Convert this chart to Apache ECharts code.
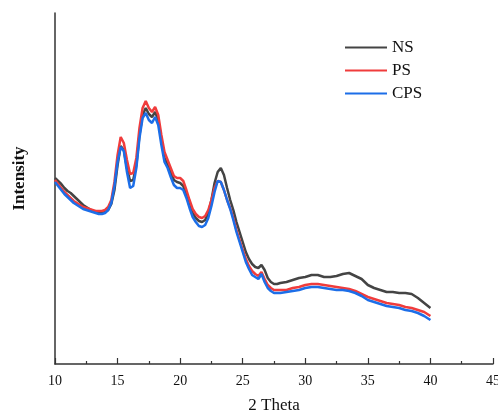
<!DOCTYPE html>
<html>
<head>
<meta charset="utf-8">
<script src="https://cdn.jsdelivr.net/npm/echarts@6/dist/echarts.min.js"></script>
<style>
html,body{margin:0;padding:0;background:#fff;}
#chart{width:498px;height:415px;}
</style>
</head>
<body>
<div id="chart"></div>
<script>
const seriesNames = ['NS', 'PS', 'CPS'];
const xTicks = [10, 15, 20, 25, 30, 35, 40, 45];
const theta = [10,10.25,10.5,10.75,11,11.25,11.5,11.75,12,12.25,12.5,12.75,13,13.25,13.5,13.75,14,14.25,14.5,14.75,
  15,15.25,15.5,15.75,16,16.25,16.5,16.75,17,17.25,17.5,17.75,18,18.25,18.5,18.75,19,19.25,19.5,19.75,
  20,20.25,20.5,20.75,21,21.25,21.5,21.75,22,22.25,22.5,22.75,23,23.25,23.5,23.75,24,24.25,24.5,24.75,
  25,25.25,25.5,25.75,26,26.25,26.5,26.75,27,27.25,27.5,27.75,28,
  28.5,29,29.5,30,30.5,31,31.5,32,32.5,33,33.5,34,34.5,35,35.5,36,36.5,37,37.5,38,38.5,39,39.5,40];
const NS = [186,183,180,176,173,171,168,165,162,159,157,155,153,152,151,151,152,154,160,174,
  199,218,214,196,183,184,199,229,249,256,250,247,252,244,224,206,199,192,184,182,
  181,178,169,159,151,146,143,142,144,151,164,181,192,196,189,176,164,154,142,132,
  122,112,105,100,97,96,99,94,86,82,80,80,81,
  82,84,86,87,89,89,87,87,88,90,91,88,85,79,76,74,72,72,71,71,70,66,61,56];
const PS = [184,180,176,172,169,166,163,161,159,157,156,155,154,153,153,153,154,157,164,182,
  209,227,221,204,190,191,206,236,256,263,256,252,257,249,229,212,204,196,188,186,
  186,183,174,164,155,150,147,146,148,154,164,176,183,182,174,164,156,146,134,124,
  114,105,98,93,90,88,92,85,79,76,74,74,74,
  74,76,77,79,80,80,79,78,77,76,75,73,70,67,65,63,61,60,59,57,56,54,52,48];
const CPS = [182,178,174,170,167,164,161,159,157,155,154,153,152,151,150,150,151,154,161,178,
  202,217,213,192,176,178,196,226,246,251,244,241,247,239,219,202,196,187,179,176,
  176,174,166,156,147,142,138,137,139,146,158,172,183,182,174,164,155,144,132,122,
  112,102,95,89,87,85,90,82,76,73,71,71,71,
  72,73,74,76,77,77,76,75,74,74,73,71,68,64,62,60,58,57,56,54,53,51,48,44];
const colors = ['#444444', '#f03c3c', '#1c6ee8'];

const seriesData = [NS, PS, CPS];
const chart = echarts.init(document.getElementById('chart'), null, {renderer: 'canvas'});
const font = 'Liberation Serif';
chart.setOption({
  animation: false,
  backgroundColor: '#ffffff',
  grid: {left: 55, right: 5, top: 13, bottom: 51, containLabel: false, outerBoundsMode: 'none'},
  legend: {
    orient: 'vertical',
    left: 340,
    top: 34,
    itemWidth: 42,
    itemHeight: 2,
    itemGap: 6,
    icon: 'rect',
    data: seriesNames,
    textStyle: {fontFamily: font, fontSize: 17, color: '#111', lineHeight: 16}
  },
  xAxis: {
    type: 'value',
    min: 10, max: 45, interval: 5,
    name: '2 Theta',
    nameLocation: 'middle',
    nameGap: 33,
    nameTextStyle: {fontFamily: font, fontSize: 17, color: '#111'},
    axisLine: {show: true, lineStyle: {color: '#333', width: 1.5}},
    axisTick: {show: true, inside: true, length: 6, lineStyle: {color: '#333', width: 1.2}},
    minorTick: {show: true, splitNumber: 2, length: 3, lineStyle: {color: '#333', width: 1.2}},
    axisLabel: {fontFamily: font, fontSize: 14, color: '#111', margin: 10,
      formatter: v => xTicks.includes(v) ? String(v) : ''},
    splitLine: {show: false}
  },
  yAxis: {
    type: 'value',
    min: 0, max: 351,
    name: 'Intensity',
    nameLocation: 'middle',
    nameGap: 27,
    nameRotate: 90,
    nameTextStyle: {fontFamily: font, fontSize: 17, fontWeight: 'bold', color: '#111', padding: [0, 0, 0, 20]},
    axisLine: {show: true, lineStyle: {color: '#333', width: 1.5}},
    axisTick: {show: false},
    axisLabel: {show: false},
    splitLine: {show: false}
  },
  series: seriesNames.map((name, i) => ({
    name: name,
    type: 'line',
    data: theta.map((t, j) => [t, seriesData[i][j]]),
    showSymbol: false,
    symbol: 'none',
    smooth: false,
    lineStyle: {color: colors[i], width: 2.5},
    itemStyle: {color: colors[i]},
    z: 2 + i
  }))
});
</script>
</body>
</html>
